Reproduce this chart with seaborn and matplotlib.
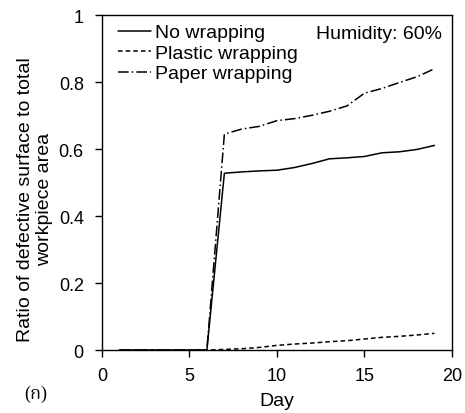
import numpy as np
import pandas as pd
import matplotlib
matplotlib.use("Agg")
import matplotlib.pyplot as plt
import seaborn as sns

days = list(range(1, 20))
no_wrapping = [0, 0, 0, 0, 0, 0, 0.528, 0.532, 0.535, 0.537, 0.545, 0.557,
               0.571, 0.574, 0.578, 0.589, 0.592, 0.599, 0.611]
plastic_wrapping = [0, 0, 0, 0, 0, 0, 0.002, 0.004, 0.008, 0.014, 0.018, 0.021,
                    0.025, 0.028, 0.033, 0.038, 0.041, 0.045, 0.050]
paper_wrapping = [0, 0, 0, 0, 0, 0, 0.645, 0.660, 0.668, 0.685, 0.691, 0.701,
                  0.713, 0.729, 0.767, 0.781, 0.799, 0.816, 0.840]
series_names = ["No wrapping", "Plastic wrapping", "Paper wrapping"]

df = pd.DataFrame({
    "Day": days * 3,
    "ratio": no_wrapping + plastic_wrapping + paper_wrapping,
    "series": [n for n in series_names for _ in days],
})

sns.set_style("ticks")
plt.rcParams['font.family'] = ['Liberation Sans', 'DejaVu Sans']
plt.rcParams['text.color'] = 'black'
plt.rcParams['axes.labelcolor'] = 'black'

fig = plt.figure(figsize=(4.65, 4.14), dpi=100)
ax = fig.add_axes([0.219, 0.152, 0.753, 0.809])

sns.lineplot(data=df, x="Day", y="ratio", style="series", color="black",
             dashes={"No wrapping": "", "Plastic wrapping": (3, 2),
                     "Paper wrapping": (7, 2, 1, 2)},
             linewidth=1.1, ax=ax)

ax.set_xlim(0, 20)
ax.set_ylim(0, 1)
ax.set_xticks([0, 5, 10, 15, 20])
ax.set_yticks([0, 0.2, 0.4, 0.6, 0.8, 1])
ax.set_yticklabels(["0", "0.2", "0.4", "0.6", "0.8", "1"])
ax.tick_params(labelsize=13, length=5, width=1, color="black", labelcolor="black")
ax.tick_params(axis="y", pad=8)
ax.tick_params(axis="x", pad=7)
for s in ax.spines.values():
    s.set_visible(True)
    s.set_color("black")
    s.set_linewidth(1)

ax.set_xlabel("Day", fontsize=14, labelpad=6)
ax.set_ylabel("Ratio of defective surface to total\nworkpiece area", fontsize=14,
              linespacing=1.15)
ax.yaxis.set_label_coords(-0.14, 0.452)

ax.legend(frameon=False, loc="upper left", fontsize=14, handlelength=1.7,
          handletextpad=0.2, labelspacing=0.15, borderaxespad=0.2,
          bbox_to_anchor=(0.012, 1.009))
ax.text(0.971, 0.946, "Humidity: 60%", transform=ax.transAxes, ha="right",
        va="center", fontsize=14)

fig.text(0.076, 0.048, "(ก)", fontsize=13, ha="center", va="center",
         family=['Liberation Serif', 'Noto Serif Thai', 'Sarabun', 'Bai Jamjuree'])

fig.savefig("out.png", dpi=100)
